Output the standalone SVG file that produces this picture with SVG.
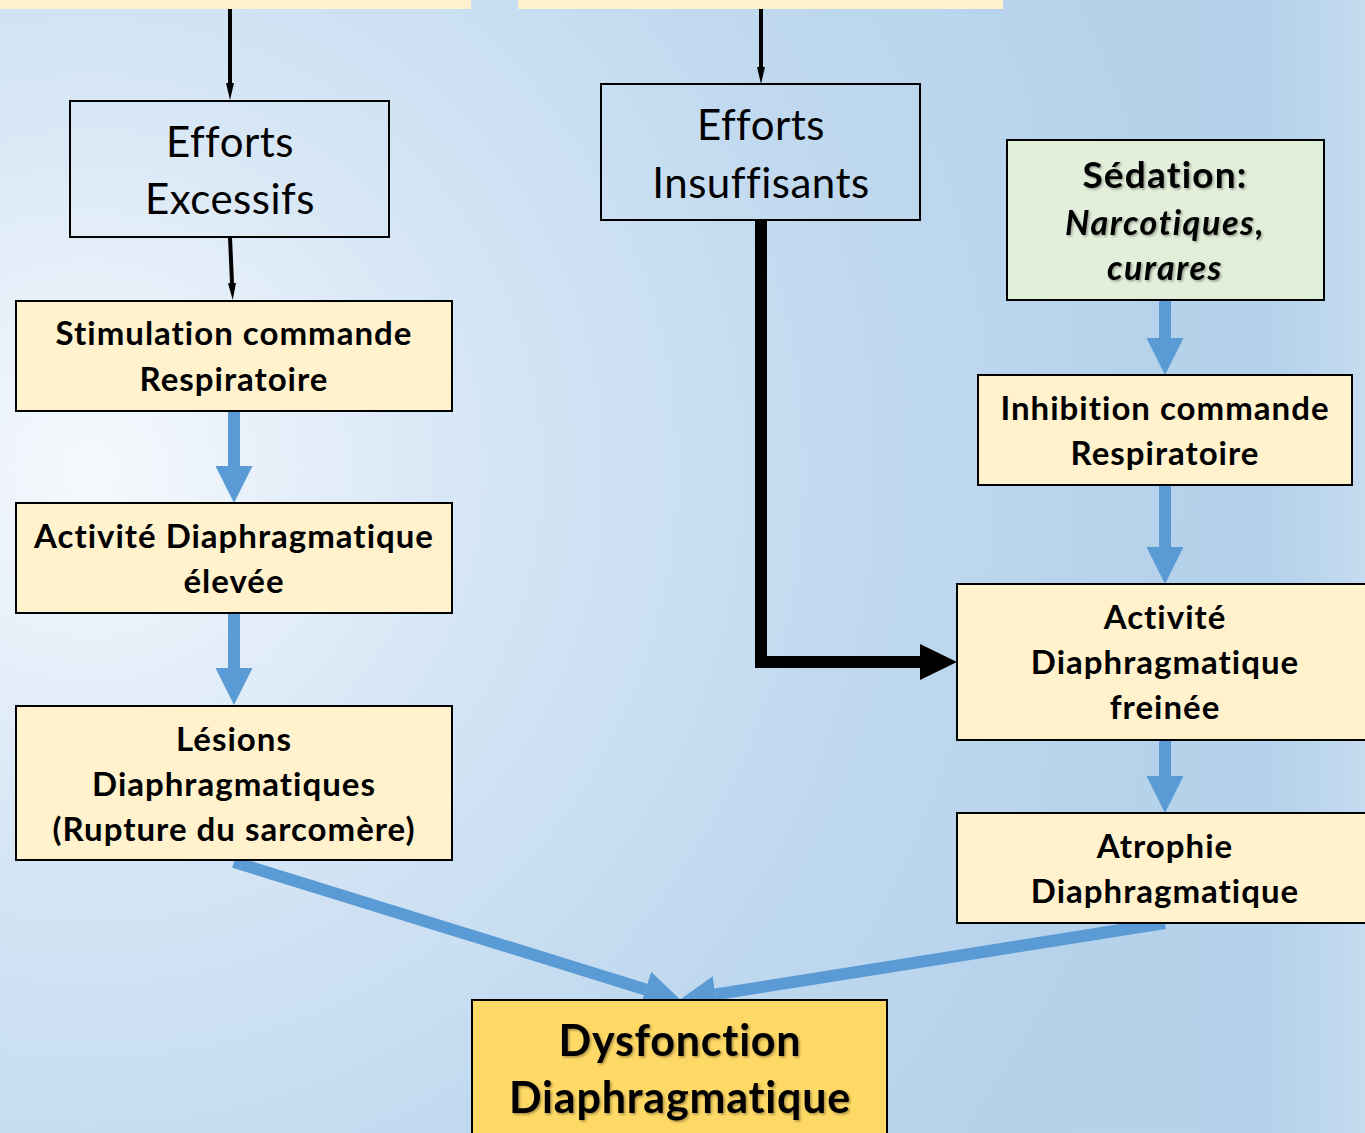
<svg xmlns="http://www.w3.org/2000/svg" width="1365" height="1133" viewBox="0 0 1365 1133">
<defs>
<radialGradient id="bg" cx="90" cy="470" r="1100" gradientUnits="userSpaceOnUse">
<stop offset="0" stop-color="#f6f9fd"/>
<stop offset="0.35" stop-color="#d6e6f5"/>
<stop offset="0.7" stop-color="#c0d9ef"/>
<stop offset="1" stop-color="#b6d2eb"/>
</radialGradient>
<linearGradient id="bgr" x1="1000" y1="0" x2="1365" y2="0" gradientUnits="userSpaceOnUse">
<stop offset="0" stop-color="#b6d3ec" stop-opacity="0"/>
<stop offset="0.75" stop-color="#b3d2eb" stop-opacity="0.6"/>
<stop offset="1" stop-color="#cfe1f2" stop-opacity="0.6"/>
</linearGradient>
<marker id="bh" viewBox="0 0 10 10" refX="0" refY="5" markerWidth="37" markerHeight="37" markerUnits="userSpaceOnUse" orient="auto" preserveAspectRatio="none">
<path d="M0,0 L10,5 L0,10 z" fill="#5b9bd5"/>
</marker>
<marker id="kh" viewBox="0 0 10 10" refX="0" refY="5" markerWidth="17" markerHeight="8" markerUnits="userSpaceOnUse" orient="auto" preserveAspectRatio="none">
<path d="M0,0 L10,5 L0,10 z" fill="#000"/>
</marker>
<marker id="kH" viewBox="0 0 10 10" refX="0" refY="5" markerWidth="37" markerHeight="36" markerUnits="userSpaceOnUse" orient="auto" preserveAspectRatio="none">
<path d="M0,0 L10,5 L0,10 z" fill="#000"/>
</marker>
<filter id="sh" x="-10%" y="-20%" width="120%" height="140%">
<feDropShadow dx="1.5" dy="1.5" stdDeviation="1" flood-color="#000" flood-opacity="0.35"/>
</filter>
</defs>
<style>
text{font-variant-ligatures:none;font-feature-settings:"liga" 0}
.box{fill:#fff2cc;stroke:#000;stroke-width:2}
.open{fill:none;stroke:#000;stroke-width:2}
.t{font-family:Lato,"Liberation Sans",sans-serif;font-weight:bold;font-size:33px;letter-spacing:1px;fill:#000;text-anchor:middle}
.r{font-family:Lato,"Liberation Sans",sans-serif;font-size:42px;letter-spacing:0.5px;fill:#000;text-anchor:middle}
.it{font-style:italic;font-size:34px;letter-spacing:1.6px}
.big{font-size:43px;letter-spacing:0.8px}
.blue{stroke:#5b9bd5;stroke-width:12;fill:none;marker-end:url(#bh)}
.thin{stroke:#000;stroke-width:4;fill:none;marker-end:url(#kh)}
</style>
<rect width="1365" height="1133" fill="url(#bg)"/>
<rect width="1365" height="1133" fill="url(#bgr)"/>

<g id="top-left"><rect x="0" y="-2" width="471" height="11" fill="#fff2cc"/></g>
<g id="top-mid"><rect x="518" y="-2" width="485" height="11" fill="#fff2cc"/></g>

<g id="connectors">
<line class="thin" x1="230" y1="9" x2="230" y2="83"/>
<line class="thin" x1="761" y1="9" x2="761" y2="67"/>
<line class="thin" x1="230" y1="237" x2="232" y2="283"/>
<polyline points="761,220 761,662 920,662" fill="none" stroke="#000" stroke-width="12" marker-end="url(#kH)"/>
<line class="blue" x1="234" y1="411" x2="234" y2="466"/>
<line class="blue" x1="234" y1="613" x2="234" y2="668"/>
<line class="blue" x1="1165" y1="300" x2="1165" y2="338"/>
<line class="blue" x1="1165" y1="485" x2="1165" y2="547"/>
<line class="blue" x1="1165" y1="740" x2="1165" y2="776"/>
<line class="blue" x1="234" y1="862" x2="645.6" y2="989.4"/>
<line class="blue" x1="1165" y1="923" x2="715.6" y2="994.4"/>
</g>

<g id="efforts-excessifs">
<rect class="open" x="70" y="101" width="319" height="136"/>
<text class="r" x="230" y="157">Efforts</text>
<text class="r" x="230" y="214">Excessifs</text>
</g>
<g id="efforts-insuffisants">
<rect class="open" x="601" y="84" width="319" height="136"/>
<text class="r" x="761" y="140">Efforts</text>
<text class="r" x="761" y="198">Insuffisants</text>
</g>
<g id="stimulation">
<rect class="box" x="16" y="301" width="436" height="110"/>
<text class="t" x="234" y="345">Stimulation commande</text>
<text class="t" x="234" y="391">Respiratoire</text>
</g>
<g id="activite-elevee">
<rect class="box" x="16" y="503" width="436" height="110"/>
<text class="t" x="234" y="548">Activité  Diaphragmatique</text>
<text class="t" x="234" y="593">élevée</text>
</g>
<g id="lesions">
<rect class="box" x="16" y="706" width="436" height="154"/>
<text class="t" x="234" y="751">Lésions</text>
<text class="t" x="234" y="796">Diaphragmatiques</text>
<text class="t" x="234" y="841">(Rupture du sarcomère)</text>
</g>
<g id="sedation">
<rect x="1007" y="140" width="317" height="160" fill="#e2efda" stroke="#000" stroke-width="2"/>
<g filter="url(#sh)">
<text class="t" x="1165" y="188" style="font-size:37px;letter-spacing:1.2px">Sédation:</text>
<text class="t it" x="1165" y="235">Narcotiques,</text>
<text class="t it" x="1165" y="280">curares</text>
</g>
</g>
<g id="inhibition">
<rect class="box" x="978" y="375" width="374" height="110"/>
<text class="t" x="1165" y="420">Inhibition commande</text>
<text class="t" x="1165" y="465">Respiratoire</text>
</g>
<g id="activite-freinee">
<rect class="box" x="957" y="584" width="420" height="156"/>
<text class="t" x="1165" y="629">Activité</text>
<text class="t" x="1165" y="674">Diaphragmatique</text>
<text class="t" x="1165" y="719">freinée</text>
</g>
<g id="atrophie">
<rect class="box" x="957" y="813" width="420" height="110"/>
<text class="t" x="1165" y="858">Atrophie</text>
<text class="t" x="1165" y="903">Diaphragmatique</text>
</g>
<g id="dysfonction">
<rect x="472" y="1000" width="415" height="145" fill="#ffd966" stroke="#000" stroke-width="2"/>
<g filter="url(#sh)">
<text class="t big" x="680" y="1056">Dysfonction</text>
<text class="t big" x="680" y="1113">Diaphragmatique</text>
</g>
</g>
</svg>
